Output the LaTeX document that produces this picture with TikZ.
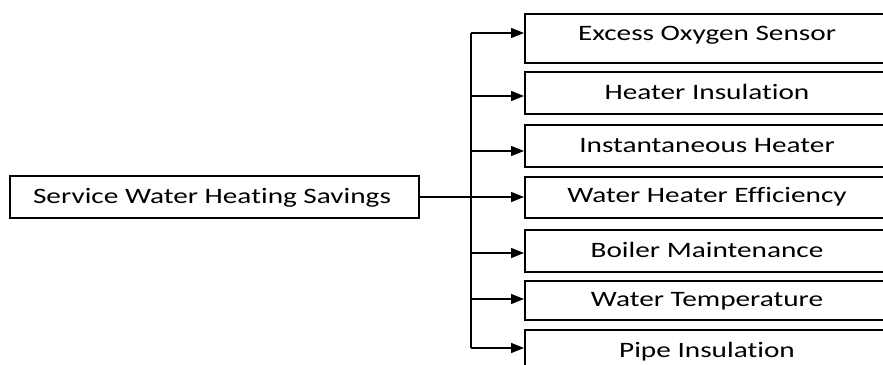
\documentclass[tikz,border=0pt]{standalone}
\usepackage{fontspec}
\setmainfont{Carlito}[Ligatures=NoCommon]
\usetikzlibrary{arrows.meta}
\newcommand\widetxt[1]{\scalebox{1.33}[1]{#1}}
\tikzset{
  box/.style={draw=black, line width=1.5pt, minimum width=367pt, inner sep=0pt, anchor=north west},
  lbl/.style={inner sep=0pt, anchor=base, font=\fontsize{22}{26}\selectfont, text=black},
  arr/.style={line width=1.5pt, -{Triangle[length=13pt,width=10pt]}},
  link/.style={line width=1.5pt}
}
\begin{document}
\begin{tikzpicture}[x=1pt,y=-1pt]
\useasboundingbox (0,0) rectangle (883,364);
\clip (0,0) rectangle (883,364);
% root
\node[box, minimum width=409pt, minimum height=42pt] (root) at (9,175) {};
\node[lbl] (rootl) at (212,203) {\widetxt{Service Water Heating Savings}};
\coordinate (trunk) at (471,197);
% children
\node[box, minimum height=49pt] (b1) at (524,13) {};
\node[lbl] (l1) at (707,40) {\widetxt{Excess Oxygen Sensor}};
\node[box, minimum height=42pt] (b2) at (524,71) {};
\node[lbl] (l2) at (707,99) {\widetxt{Heater Insulation}};
\node[box, minimum height=42pt] (b3) at (524,124) {};
\node[lbl] (l3) at (707,152) {\widetxt{Instantaneous Heater}};
\node[box, minimum height=41pt] (b4) at (524,176) {};
\node[lbl] (l4) at (707,202) {\widetxt{Water Heater Efficiency}};
\node[box, minimum height=42pt] (b5) at (524,229) {};
\node[lbl] (l5) at (707,257) {\widetxt{Boiler Maintenance}};
\node[box, minimum height=39pt] (b6) at (524,280) {};
\node[lbl] (l6) at (707,306) {\widetxt{Water Temperature}};
\node[box, minimum height=45pt] (b7) at (524,329) {};
\node[lbl] (l7) at (707,357) {\widetxt{Pipe Insulation}};
% connectors
\coordinate (top) at (471,33);
\coordinate (bot) at (471,348);
\draw[link] (top) -- (bot);
\draw[link] (root.east |- trunk) -- (trunk);
\draw[arr] (top) -- (b1.west |- top);
\draw[arr] (trunk |- 0,96) -- (b2.west |- 0,96);
\draw[arr] (trunk |- 0,151) -- (b3.west |- 0,151);
\draw[arr] (trunk) -- (b4.west |- trunk);
\draw[arr] (trunk |- 0,253) -- (b5.west |- 0,253);
\draw[arr] (trunk |- 0,299) -- (b6.west |- 0,299);
\draw[arr] (bot) -- (b7.west |- bot);
\end{tikzpicture}
\end{document}
